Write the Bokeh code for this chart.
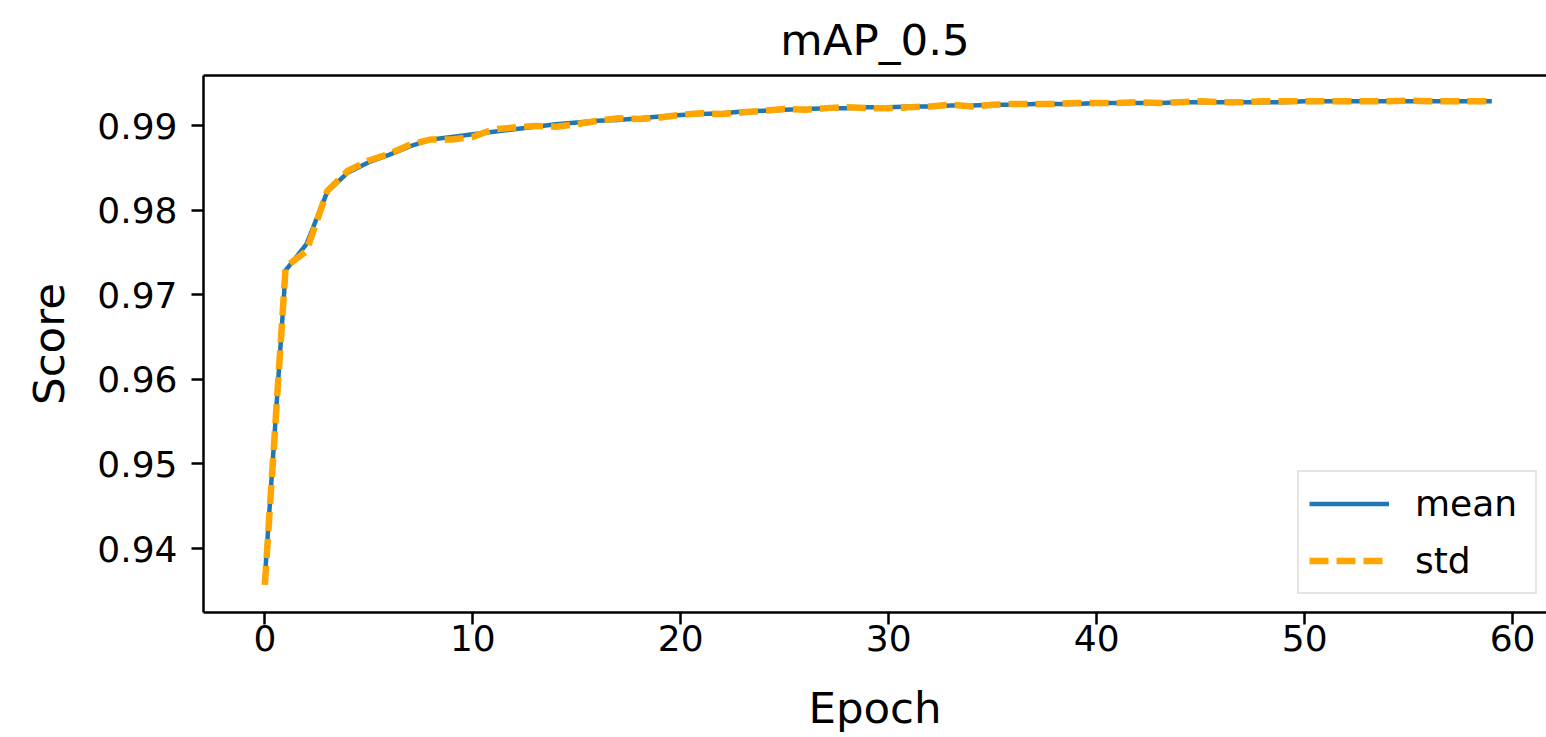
from bokeh.plotting import figure
from bokeh.models import Range1d, FixedTicker, LinearAxis, Legend, LegendItem
from bokeh.embed import file_html
from bokeh.resources import INLINE

title_text = "mAP_0.5"
x_label = "Epoch"
y_label = "Score"

epochs = list(range(60))
mean_vals = [
    0.9365, 0.9729, 0.9760, 0.9822, 0.9845, 0.9857, 0.9866, 0.9876, 0.9884, 0.9887,
    0.9890, 0.9893, 0.9896, 0.9899, 0.9902, 0.9904, 0.9906, 0.9907, 0.9909, 0.9911,
    0.9913, 0.9914, 0.9915, 0.9917, 0.9918, 0.9919, 0.9920, 0.9921, 0.9921, 0.9922,
    0.9922, 0.9923, 0.9923, 0.9924, 0.9924, 0.9925, 0.9925, 0.9926, 0.9926, 0.9926,
    0.9927, 0.9927, 0.9927, 0.9927, 0.9928, 0.9928, 0.9928, 0.9928, 0.9928, 0.9928,
    0.9929, 0.9929, 0.9929, 0.9929, 0.9929, 0.9929, 0.9929, 0.9929, 0.9929, 0.9929,
]
std_vals = [
    0.9357, 0.9733, 0.9752, 0.9823, 0.9847, 0.9859, 0.9867, 0.9878, 0.9884, 0.9884,
    0.9887, 0.9896, 0.9898, 0.9900, 0.9899, 0.9902, 0.9906, 0.9909, 0.9908, 0.9910,
    0.9913, 0.9915, 0.9914, 0.9916, 0.9918, 0.9920, 0.9919, 0.9921, 0.9922, 0.9921,
    0.9921, 0.9922, 0.9923, 0.9925, 0.9923, 0.9925, 0.9926, 0.9926, 0.9926, 0.9927,
    0.9927, 0.9927, 0.9928, 0.9927, 0.9928, 0.9929, 0.9928, 0.9928, 0.9929, 0.9929,
    0.9929, 0.9929, 0.9929, 0.9929, 0.9929, 0.9930, 0.9929, 0.9929, 0.9929, 0.9929,
]
x_ticks = [0, 10, 20, 30, 40, 50, 60]
y_ticks = [0.94, 0.95, 0.96, 0.97, 0.98, 0.99]
y_tick_labels = ["0.94", "0.95", "0.96", "0.97", "0.98", "0.99"]
series_names = ["mean", "std"]

FONT = "DejaVu Sans"
TICK_FS = "36px"
LABEL_FS = "43.5px"

p = figure(
    width=1546, height=737,
    output_backend="svg", toolbar_location=None,
    x_range=Range1d(-2.95, 61.63), y_range=Range1d(0.93243, 0.99596),
    min_border_left=203, min_border_right=0, min_border_top=75, min_border_bottom=125,
    title=title_text,
)
p.outline_line_color = None
p.grid.visible = False
p.background_fill_color = "white"
p.border_fill_color = "white"

p.title.align = "center"
p.title.text_font = FONT
p.title.text_font_size = LABEL_FS
p.title.text_font_style = "normal"
p.title.text_color = "black"
p.title.standoff = 22

p.xaxis.ticker = FixedTicker(ticks=x_ticks)
p.yaxis.ticker = FixedTicker(ticks=y_ticks)
p.yaxis.major_label_overrides = {t: s for t, s in zip(y_ticks, y_tick_labels)}
p.xaxis.axis_label = x_label
p.yaxis.axis_label = y_label

for ax in (p.xaxis[0], p.yaxis[0]):
    ax.axis_line_width = 2.5
    ax.axis_line_color = "black"
    ax.major_tick_line_width = 2.5
    ax.major_tick_line_color = "black"
    ax.major_tick_out = 12
    ax.major_tick_in = 0
    ax.minor_tick_line_color = None
    ax.major_label_text_font = FONT
    ax.major_label_text_font_size = TICK_FS
    ax.major_label_text_color = "black"
    ax.axis_label_text_font = FONT
    ax.axis_label_text_font_size = LABEL_FS
    ax.axis_label_text_font_style = "normal"
    ax.axis_label_text_color = "black"

p.xaxis.major_label_standoff = 0
p.xaxis.axis_label_standoff = 29
p.yaxis.major_label_standoff = 14
p.yaxis.axis_label_standoff = 20

top_axis = LinearAxis(
    ticker=FixedTicker(ticks=[]),
    axis_line_width=2.5, axis_line_color="black",
    major_tick_line_color=None, minor_tick_line_color=None,
    major_label_text_font_size="0px",
)
p.add_layout(top_axis, "above")

r_mean = p.line(epochs, mean_vals, line_color="#1f77b4", line_width=4.5)
r_std = p.line(epochs, std_vals, line_color="orange", line_width=6.5, line_dash="19 8")

legend = Legend(
    items=[LegendItem(label=series_names[0], renderers=[r_mean]),
           LegendItem(label=series_names[1], renderers=[r_std])],
    location=(1094, 18),
    label_text_font=FONT, label_text_font_size=TICK_FS, label_text_color="black",
    glyph_width=80, glyph_height=43, label_height=43, label_width=110,
    label_standoff=26, padding=10, spacing=14, margin=0,
    border_line_color="#cccccc", border_line_width=2,
    background_fill_color="white", background_fill_alpha=0.8,
)
p.add_layout(legend)

open("out.html", "w").write(file_html(p, INLINE))
